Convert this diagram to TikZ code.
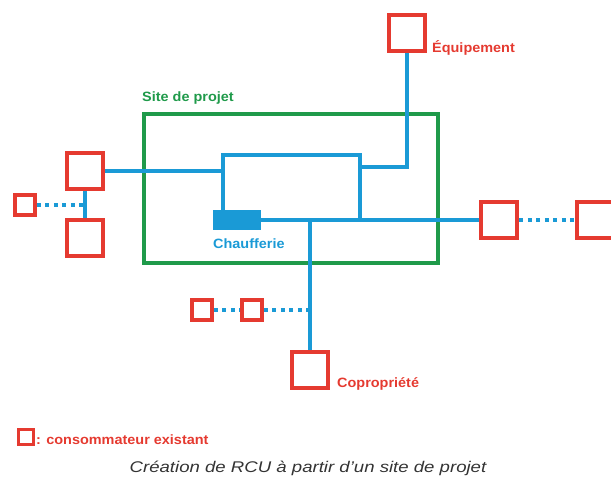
\documentclass[tikz,border=0pt]{standalone}
\usepackage{fontspec}
\setmainfont{Liberation Sans}
\newfontfamily\lblfont[FakeStretch=1.07]{Liberation Sans}
\newfontfamily\capfont[FakeStretch=1.2]{Liberation Sans}
\definecolor{cred}{HTML}{E53A30}
\definecolor{cblue}{HTML}{1A9AD6}
\definecolor{cgreen}{HTML}{1F9A4A}
\definecolor{cgray}{HTML}{333333}
\begin{document}
\begin{tikzpicture}[x=1pt,y=-1pt,
  cons/.style={draw=cred, line width=4.5pt, minimum size=36pt, inner sep=0pt, fill=white},
  smallcons/.style={cons, minimum size=19.5pt, line width=4pt},
  pipe/.style={draw=cblue, line width=4.5pt},
  dots/.style={draw=cblue, line width=4.5pt, dash pattern=on 4pt off 4.5pt},
  lbl/.style={font=\lblfont\bfseries\fontsize{13.5}{16}\selectfont, inner sep=0pt, anchor=west}]
\useasboundingbox (0,0) rectangle (611,484);
\clip (0,0) rectangle (611,484);

% project site frame
\draw[cgreen, line width=4.5pt] (144,114) rectangle (438,263);
\node[lbl, text=cgreen] (site) at (142,98) {Site de projet};

% consumers
\node[cons] (eq) at (407,33) {};
\node[cons] (L1) at (85,171) {};
\node[cons] (L2) at (85,238) {};
\node[smallcons] (Ls) at (25,205) {};
\node[cons] (R1) at (499,220) {};
\node[cons] (R2) at (595,220) {};
\node[smallcons] (B1) at (202,310) {};
\node[smallcons] (B2) at (252,310) {};
\node[cons] (copro) at (310,370) {};

% boiler room
\node[fill=cblue, minimum width=48pt, minimum height=20pt, inner sep=0pt] (ch) at (237,220) {};

\coordinate (tl) at (223,155);
\coordinate (tr) at (360,155);
\coordinate (ej) at (360,167);

% pipes
\draw[pipe] (ch.north -| tl) -- (tl) -- (tr) -- (tr |- ch.east);
\draw[pipe] (L1.east) -- (L1.east -| tl);
\draw[pipe] (eq.south) |- (ej);
\draw[pipe] (ch.east) -- (R1.west);
\draw[pipe] (ch.east -| copro) -- (copro.north);
\draw[pipe] (L1.south) -- (L2.north);
\draw[dots] (Ls.east) -- (Ls.east -| L1.south);
\draw[dots] (B1.east) -- (B2.west);
\draw[dots] (B2.east) -- (B2.east -| copro.north);
\draw[dots] (R1.east) -- (R2.west);

% labels
\node[lbl, text=cred] (eqlbl) at (432,48) {Équipement};
\node[lbl, text=cblue] (chlbl) at (213,244) {Chaufferie};
\node[lbl, text=cred] (coprolbl) at (337,384) {Copropriété};

% legend
\node[draw=cred, line width=3.5pt, minimum size=15pt, inner sep=0pt] (leg) at (26,437) {};
\node[lbl, text=cred, font=\lblfont\bfseries\fontsize{13.5}{16}\selectfont] (legtxt) at (36,440) {: consommateur existant};

% caption
\node[text=cgray, font=\capfont\itshape\fontsize{15.5}{18}\selectfont, inner sep=0pt] (cap) at (308,468) {Création de RCU à partir d’un site de projet};
\end{tikzpicture}
\end{document}
